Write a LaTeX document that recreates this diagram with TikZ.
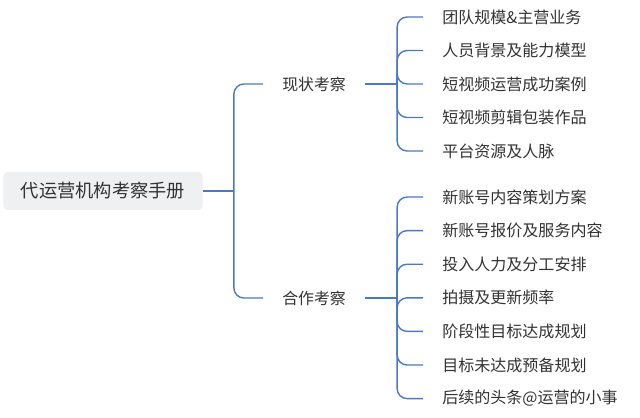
\documentclass[tikz,border=0pt]{standalone}
\usepackage{fontspec}
\newfontfamily\cjk{Noto Sans CJK SC}
\definecolor{MapBlue}{RGB}{78,118,198}
\definecolor{RootGray}{RGB}{239,240,242}
\definecolor{InkGray}{RGB}{50,50,50}
\usepackage{tikz}
\usetikzlibrary{arrows.meta, positioning, calc}

\begin{document}
\begin{tikzpicture}[x=0.025cm, y=-0.025cm, font=\cjk, text=InkGray,
	root/.style={rectangle, rounded corners=3pt, fill=RootGray, font=\cjk\fontsize{13pt}{15pt}\selectfont,
		minimum width=4.98cm, minimum height=0.95cm, inner sep=0pt},
	topic/.style={anchor=west, inner xsep=0.475cm, inner ysep=0pt, font=\cjk\fontsize{11.3pt}{13pt}\selectfont},
	leaf/.style={anchor=west, inner xsep=0.475cm, inner ysep=0pt, font=\cjk\fontsize{11.4pt}{13pt}\selectfont},
	link/.style={draw=MapBlue, line width=1pt, rounded corners=0.25cm}]
	\useasboundingbox (0,0) rectangle (640,417);
	% centre
	\node[root] (root) at (103,191) {代运营机构考察手册};
	\node[topic] (s1) at (263,84) {现状考察};
	\node[topic] (s2) at (263,298) {合作考察};
	\draw[link] (root.east) -- ++(31,0) coordinate (rj);
	\draw[link] (rj) |- (s1.west);
	\draw[link] (rj) |- (s2.west);
	% 现状考察
	\foreach \t [count=\i] in {团队规模\&主营业务, 人员背景及能力模型, 短视频运营成功案例,
		短视频剪辑包装作品, 平台资源及人脉}{
		\node[leaf] (a\i) at (423,{17+33.5*(\i-1)}) {\t};
	}
	\draw[link] (s1.east) -- ++(32,0) coordinate (j1);
	\foreach \i in {1,...,5}{\draw[link] (j1) |- (a\i.west);}
	% 合作考察
	\foreach \t [count=\i] in {新账号内容策划方案, 新账号报价及服务内容, 投入人力及分工安排,
		拍摄及更新频率, 阶段性目标达成规划, 目标未达成预备规划, 后续的头条@运营的小事}{
		\node[leaf] (b\i) at (423,{197+33.6*(\i-1)}) {\t};
	}
	\draw[link] (s2.east) -- ++(32,0) coordinate (j2);
	\foreach \i in {1,...,7}{\draw[link] (j2) |- (b\i.west);}
\end{tikzpicture}
\end{document}
